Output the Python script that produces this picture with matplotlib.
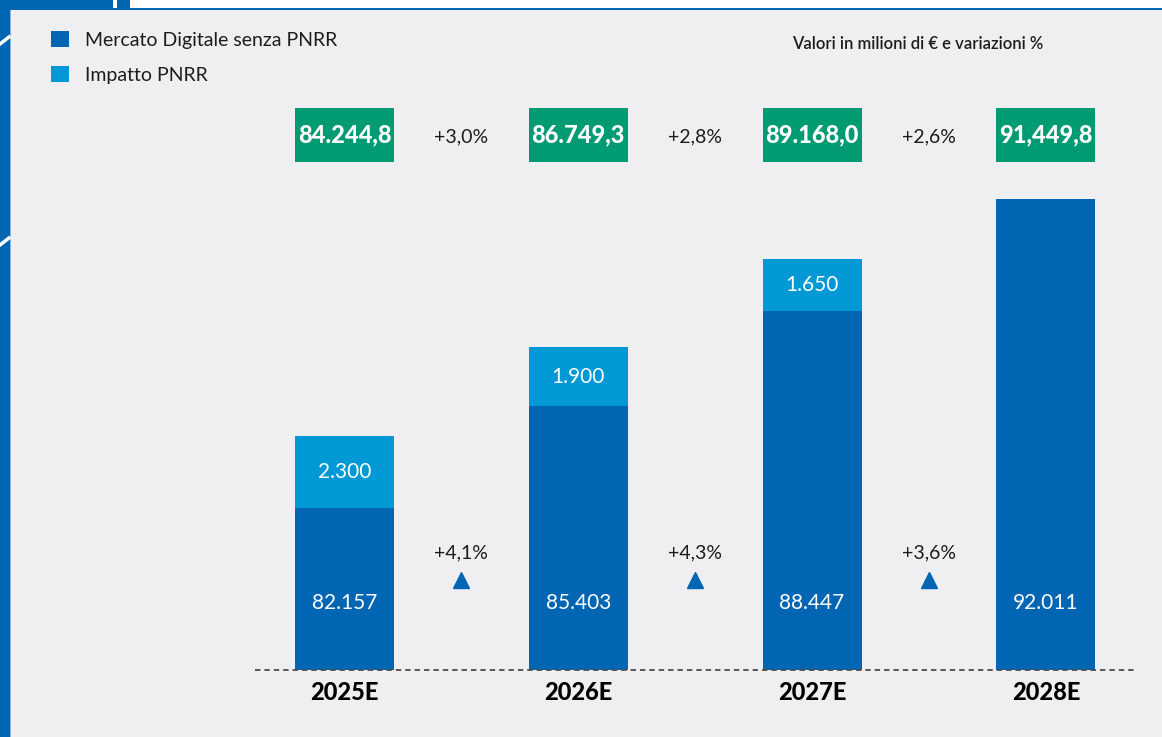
import numpy as np
import matplotlib.pyplot as plt
import matplotlib.transforms as mtransforms
from matplotlib.patches import Rectangle
from matplotlib.lines import Line2D

anni = ['2025E', '2026E', '2027E', '2028E']
mercato = [82157, 85403, 88447, 92011]          # Mercato Digitale senza PNRR
pnrr = [2300, 1900, 1650, 0]                    # Impatto PNRR
totali = ['84.244,8', '86.749,3', '89.168,0', '91,449,8']
var_tot = ['+3,0%', '+2,8%', '+2,6%']
var_merc = ['+4,1%', '+4,3%', '+3,6%']
lbl_mercato = ['82.157', '85.403', '88.447', '92.011']
lbl_pnrr = ['2.300', '1.900', '1.650', '']

blu = '#0066b3'
azzurro = '#0099d6'
verde = '#009a73'
sfondo = '#efeff2'
testo = '#1d1d1b'

W, H = 1162, 737
plt.rcParams['font.family'] = ['Lato', 'DejaVu Sans']

fig = plt.figure(figsize=(W / 100, H / 100), dpi=100, facecolor=sfondo)
ax = fig.add_axes([0, 0, 1, 1])
ax.set_facecolor('none')
ax.axis('off')

# scala troncata: la base del grafico parte da 77.000
base = 77000
ax.set_xlim(-1.4735, 3.4966)
ax.set_ylim(74864, 98365)

x = np.arange(len(anni))
larg = 0.423
m = np.array(mercato)
p = np.array(pnrr)
b1 = ax.bar(x, m - base, bottom=base, width=larg, color=blu, label='Mercato Digitale senza PNRR')
b2 = ax.bar(x, p, bottom=m, width=larg, color=azzurro, label='Impatto PNRR')

ax.plot([-0.383, 3.381], [base, base], color='#4d4d4d', lw=1.3, ls=(0, (3, 2.2)))

tr = mtransforms.blended_transform_factory(ax.transData, fig.transFigure)
def fy(py):
    return 1 - py / H

for i in range(len(anni)):
    ax.add_patch(Rectangle((x[i] - larg / 2, fy(162)), larg, 54 / H, transform=tr,
                           color=verde, lw=0))
    ax.text(x[i], fy(135), totali[i], transform=tr, ha='center', va='center',
            color='white', fontsize=17, fontweight=900)
    ax.text(x[i], fy(603), lbl_mercato[i], transform=tr, ha='center', va='center',
            color='white', fontsize=15)
    if pnrr[i] > 0:
        ax.text(x[i], m[i] + p[i] / 2, lbl_pnrr[i], ha='center', va='center',
                color='white', fontsize=15)
    ax.text(x[i], fy(693), anni[i], transform=tr, ha='center', va='center',
            color='black', fontsize=17, fontweight=900)

for i in range(len(var_tot)):
    xm = x[i] + 0.5
    ax.text(xm, fy(137), var_tot[i], transform=tr, ha='center', va='center',
            color=testo, fontsize=14)
    ax.text(xm, fy(553), var_merc[i], transform=tr, ha='center', va='center',
            color=testo, fontsize=14)
    ax.plot([xm], [fy(580)], transform=tr, marker='^', ms=12, color=blu, mec=blu)

ax.legend(handles=[b1, b2], loc='upper left', bbox_to_anchor=(51 / W, fy(31)),
          bbox_transform=fig.transFigure, frameon=False, fontsize=14,
          handlelength=0.9, handleheight=0.9, handletextpad=0.85,
          labelspacing=0.9, borderpad=0, borderaxespad=0, labelcolor=testo)

fig.text(792 / W, fy(44), 'Valori in milioni di € e variazioni %', ha='left', va='center',
         fontsize=12, fontweight='semibold', color=testo)

# cornice
def rett(x0, y0, x1, y1, c):
    fig.add_artist(Rectangle((x0 / W, 1 - y1 / H), (x1 - x0) / W, (y1 - y0) / H,
                             transform=fig.transFigure, color=c, lw=0))

rett(0, 0, W, 8, 'white')
rett(0, 8, W, 9.5, blu)
rett(0, 0, 10, H, blu)
rett(10, 9.5, 11, H, '#8fb4dc')
rett(0, 0, 113, 9, blu)
rett(117, 0, 130, 9, blu)
for py in (40, 241):
    fig.add_artist(Line2D([0, 9 / W], [fy(py + 4), fy(py - 3)], transform=fig.transFigure,
                          color='white', lw=2.5))

plt.savefig('out.png', dpi=100, facecolor=sfondo)
